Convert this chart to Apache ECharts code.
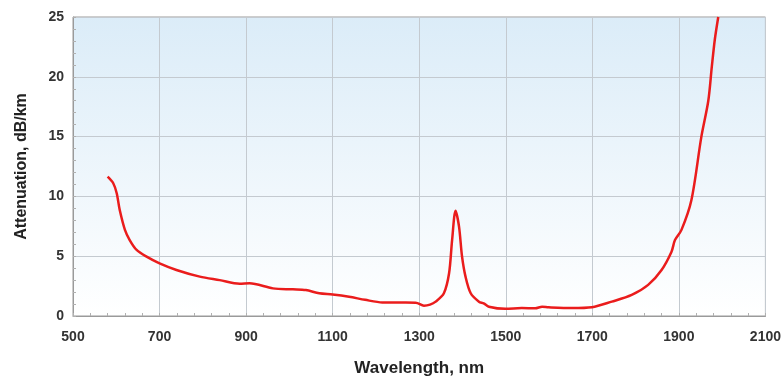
<!DOCTYPE html>
<html>
<head>
<meta charset="utf-8">
<script src="https://cdn.jsdelivr.net/npm/echarts@6/dist/echarts.min.js"></script>
<style>
  html, body { margin: 0; padding: 0; background: #fff; }
  #chart { width: 784px; height: 383px; }
</style>
</head>
<body>
<div id="chart"></div>
<script>
// Spectral attenuation of the fibre: wavelength (nm) and loss (dB/km)
const wavelengths = [
  580, 593, 601, 608, 620, 631, 647, 670, 700, 739, 793, 839, 885, 908,
  962, 1008, 1038, 1069, 1100, 1138, 1175, 1215, 1260, 1292, 1311, 1325,
  1338, 1357, 1369, 1376, 1384, 1392, 1399, 1407, 1419, 1438, 1449, 1461,
  1499, 1537, 1568, 1584, 1599, 1653, 1699, 1745, 1791, 1829, 1860, 1883,
  1891, 1906, 1929, 1952, 1968, 1976, 1983, 1991
];
const attenuation = [
  11.65, 11.1, 10.26, 8.86, 7.2, 6.35, 5.52, 4.96, 4.4, 3.85, 3.29, 3.0, 2.7, 2.73,
  2.31, 2.23, 2.17, 1.9, 1.8, 1.61, 1.35, 1.13, 1.12, 1.11, 0.86, 0.95,
  1.2, 1.9, 3.57, 6.35, 8.8, 7.47, 4.96, 3.29, 1.9, 1.2, 1.06, 0.78,
  0.6, 0.67, 0.64, 0.78, 0.73, 0.66, 0.73, 1.2, 1.76, 2.6, 3.85, 5.38,
  6.35, 7.2, 9.7, 15.0, 18.0, 20.8, 23.1, 25.0
];
const xTicks = { min: 500, max: 2100, step: 200 };
const yTicks = { min: 0, max: 25, step: 5 };

const points = wavelengths.map((w, i) => [w, attenuation[i]]);

const chart = echarts.init(document.getElementById('chart'), null, { renderer: 'canvas' });

const fontFamily = 'Liberation Sans, Arial, sans-serif';
const labelStyle = {
  color: '#333333',
  fontFamily: fontFamily,
  fontWeight: 'bold',
  fontSize: 14,
  formatter: v => String(v)
};

chart.setOption({
  animation: false,
  grid: {
    left: 73, right: 16, top: 17, bottom: 67,
    show: true,
    borderColor: '#9a9a9a',
    borderWidth: 1,
    backgroundColor: {
      type: 'linear', x: 0, y: 0, x2: 0, y2: 1,
      colorStops: [
        { offset: 0, color: '#dbecf8' },
        { offset: 1, color: '#ffffff' }
      ]
    }
  },
  xAxis: {
    type: 'value',
    min: xTicks.min, max: xTicks.max, interval: xTicks.step,
    name: 'Wavelength, nm',
    nameLocation: 'middle',
    nameGap: 44,
    nameTextStyle: { color: '#222', fontFamily: fontFamily, fontWeight: 'bold', fontSize: 17 },
    axisLine: { show: true, lineStyle: { color: '#9a9a9a' } },
    axisTick: { show: true, inside: true, length: 3, lineStyle: { color: '#b0b0b0' } },
    minorTick: { show: true, splitNumber: 5, length: 3, lineStyle: { color: '#b0b0b0' } },
    axisLabel: Object.assign({ margin: 14 }, labelStyle),
    splitLine: { show: true, lineStyle: { color: '#c4cad0', width: 1 } }
  },
  yAxis: {
    type: 'value',
    min: yTicks.min, max: yTicks.max, interval: yTicks.step,
    name: 'Attenuation, dB/km',
    nameLocation: 'middle',
    nameGap: 43,
    nameTextStyle: { color: '#222', fontFamily: fontFamily, fontWeight: 'bold', fontSize: 16 },
    axisLine: { show: true, lineStyle: { color: '#9a9a9a' } },
    axisTick: { show: true, inside: true, length: 3, lineStyle: { color: '#b0b0b0' } },
    minorTick: { show: true, splitNumber: 5, length: 3, lineStyle: { color: '#b0b0b0' } },
    axisLabel: Object.assign({ margin: 9 }, labelStyle),
    splitLine: { show: true, lineStyle: { color: '#c4cad0', width: 1 } }
  },
  series: [{
    type: 'line',
    data: points,
    smooth: 0.3,
    showSymbol: false,
    lineStyle: { color: '#ea1c1c', width: 2.5 }
  }]
});
</script>
</body>
</html>
